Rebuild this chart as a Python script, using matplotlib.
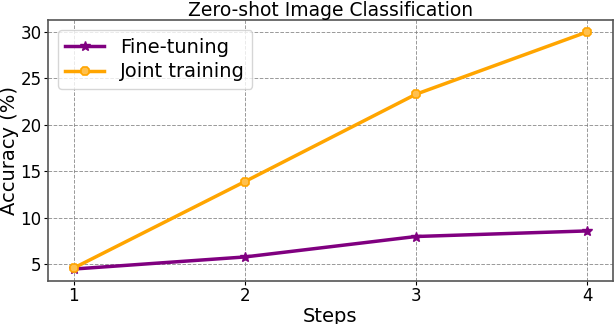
import matplotlib
matplotlib.use("Agg")
import matplotlib.pyplot as plt

steps = [1, 2, 3, 4]
fine_tuning = [4.5, 5.8, 8.0, 8.6]
joint_training = [4.6, 13.9, 23.3, 30.0]
title = "Zero-shot Image Classification"

fig, ax = plt.subplots(figsize=(6.14, 3.24), dpi=100)
ax.plot(steps, fine_tuning, color="purple", marker="*", markersize=7, linewidth=2.5, label="Fine-tuning")
ax.plot(steps, joint_training, color="orange", marker="8", markersize=7, markerfacecolor="#ffc04d",
        markeredgecolor="orange", markeredgewidth=1.2, linewidth=2.5, label="Joint training")
ax.set_xticks(steps)
ax.set_yticks([5, 10, 15, 20, 25, 30])
ax.tick_params(labelsize=12, length=3, pad=1.5)
ax.grid(True, linestyle="--", color="gray", linewidth=0.7, alpha=0.8)
ax.set_xlabel("Steps", fontsize=14, labelpad=1)
ax.set_ylabel("Accuracy (%)", fontsize=14, labelpad=1)
ax.set_title(title, fontsize=13.5, pad=3)
for s in ax.spines.values():
    s.set_color("#555555")
    s.set_linewidth(1.2)
ax.legend(fontsize=14, loc="upper left", handlelength=2.0, borderpad=0.4, labelspacing=0.3)
fig.subplots_adjust(left=0.078, right=0.998, top=0.938, bottom=0.133)
fig.savefig("out.png")
